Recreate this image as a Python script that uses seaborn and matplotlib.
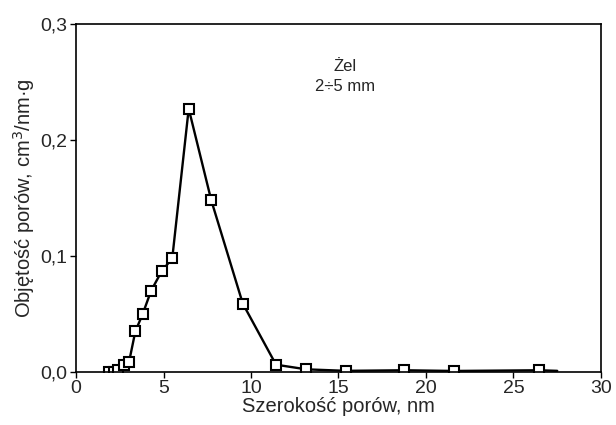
import numpy as np
import seaborn as sns
import matplotlib.pyplot as plt
from matplotlib.ticker import FuncFormatter

# pore size distribution
pore_width = [1.9, 2.15, 2.42, 2.73, 3.03, 3.39, 3.81, 4.29, 4.90, 5.50, 6.44, 7.73,
              9.53, 11.43, 13.16, 15.43, 18.76, 21.6, 26.44, 27.5]
pore_volume = [0.0, 0.0, 0.0015, 0.006, 0.0086, 0.035, 0.050, 0.070, 0.087, 0.098,
               0.227, 0.148, 0.059, 0.0063, 0.0023, 0.001, 0.0015, 0.0009, 0.0015, 0.001]
x_ticks = [0, 5, 10, 15, 20, 25, 30]
y_ticks = [0.0, 0.1, 0.2, 0.3]

sns.set_style('ticks')
plt.rcParams['font.family'] = ['Liberation Sans', 'DejaVu Sans']

fig = plt.figure(figsize=(6.16, 4.25), dpi=100)
ax = fig.add_axes([0.1234, 0.1247, 0.8522, 0.8188])

sns.lineplot(x=pore_width, y=pore_volume, ax=ax, color='black', linewidth=1.7,
             marker='s', markersize=6.5, markerfacecolor='white', markeredgecolor='black',
             markeredgewidth=1.5, markevery=list(range(len(pore_width) - 1)), sort=False)

ax.set_xlim(0, 30)
ax.set_ylim(0, 0.3)
ax.set_xticks(x_ticks)
ax.set_yticks(y_ticks)
ax.yaxis.set_major_formatter(FuncFormatter(lambda v, p: f'{v:.1f}'.replace('.', ',')))
ax.tick_params(labelsize=14, length=4, width=1, color='black', pad=2)
for s in ax.spines.values():
    s.set_linewidth(1.2)
    s.set_color('black')

ax.set_xlabel('Szerokość porów, nm', fontsize=14.5, labelpad=0)
ax.set_ylabel('Objętość porów, cm$^3$/nm·g', fontsize=14.5, labelpad=3)

ax.text(15.4, 0.263, 'Żel', ha='center', va='center', fontsize=12)
ax.text(15.4, 0.246, '2÷5 mm', ha='center', va='center', fontsize=12)

fig.savefig('out.png', dpi=100)
